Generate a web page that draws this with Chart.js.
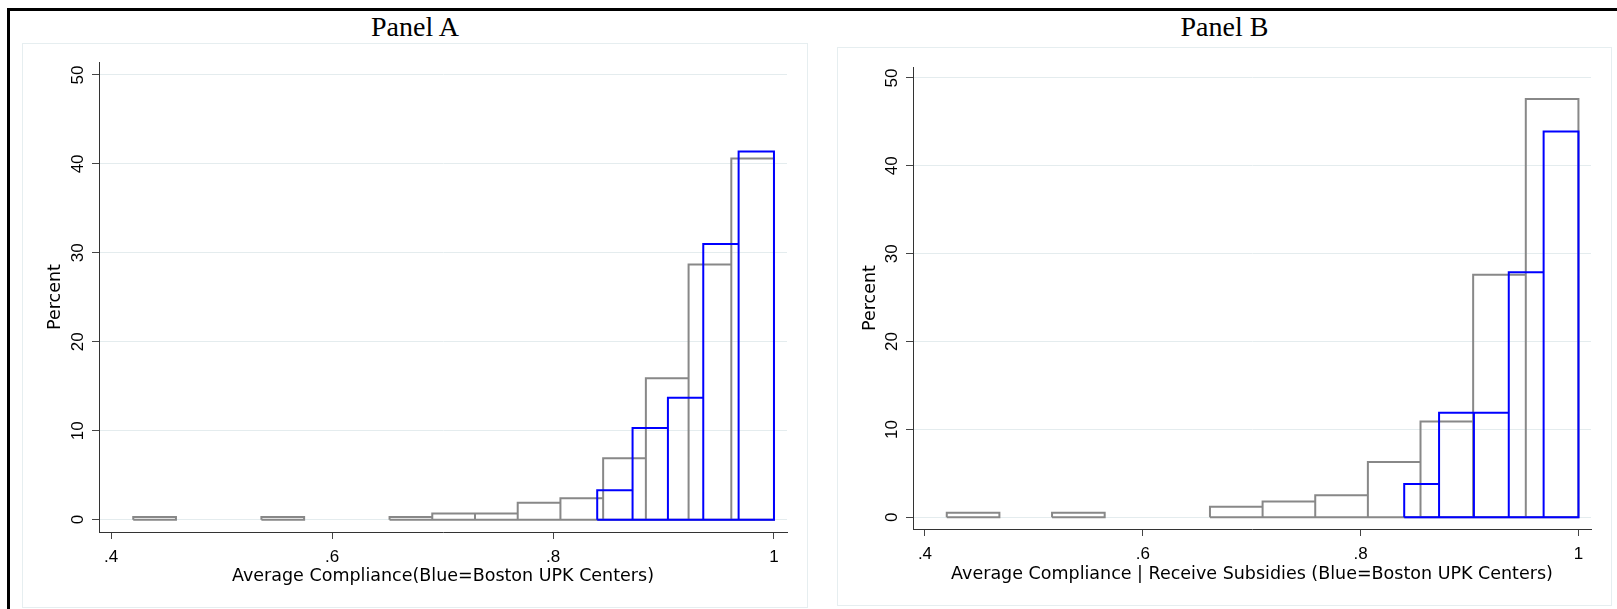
<!DOCTYPE html>
<html>
<head>
<meta charset="utf-8">
<script src="https://cdn.jsdelivr.net/npm/chart.js@4.4.1/dist/chart.umd.min.js"></script>
<style>
  html, body { margin: 0; padding: 0; background: #fff; overflow: hidden; }
  body { width: 1617px; height: 609px; position: relative; }
  #frame { position: absolute; left: 7px; top: 8px; width: 2000px; height: 1000px; border: 3px solid #000; }
  .region { position: absolute; box-sizing: border-box; border: 1px solid #e6eef0; background: #fff; }
  .title { position: absolute; text-align: center; font-family: "Liberation Serif", "Times New Roman", serif; font-size: 28px; line-height: 28px; color: #000; }
  canvas { position: absolute; }
</style>
</head>
<body>
<div id="frame"></div>
<div class="title" style="left:22px; top:13px; width:786px;">Panel A</div>
<div class="title" style="left:837px; top:13px; width:775px;">Panel B</div>
<div class="region" style="left:22px; top:43px; width:786px; height:565px;"></div>
<div class="region" style="left:837px; top:47px; width:775px; height:559px;"></div>
<canvas id="chartA" width="786" height="565" style="left:22px; top:43px;"></canvas>
<canvas id="chartB" width="775" height="559" style="left:837px; top:47px;"></canvas>
<script>
// histogram bins: first lower edge, bin width, percent per bin
const aGrayStart = 0.42, aGrayWidth = 0.03867;
const aGrayPct = [0.3, 0, 0, 0.3, 0, 0, 0.3, 0.7, 0.7, 1.9, 2.4, 6.9, 15.9, 28.7, 40.6];
const aBlueStart = 0.84, aBlueWidth = 0.032;
const aBluePct = [3.3, 10.3, 13.7, 31.0, 41.4];

const bGrayStart = 0.42, bGrayWidth = 0.04833;
const bGrayPct = [0.53, 0, 0.53, 0, 0, 1.2, 1.8, 2.5, 6.3, 10.9, 27.6, 47.6];
const bBlueStart = 0.84, bBlueWidth = 0.032;
const bBluePct = [3.8, 11.9, 11.9, 27.9, 43.9];

const xTickVals = [0.4, 0.6, 0.8, 1];
const xTickLabels = ['.4', '.6', '.8', '1'];
const yTickVals = [0, 10, 20, 30, 40, 50];

const xTitleA = 'Average Compliance(Blue=Boston UPK Centers)';
const xTitleB = 'Average Compliance | Receive Subsidies (Blue=Boston UPK Centers)';
const yTitle = 'Percent';

// one closed rectangle per non-empty bin, separated by gaps
function outline(start, width, pct) {
  const pts = [];
  pct.forEach((h, i) => {
    if (!h) return;
    const x0 = start + i * width, x1 = x0 + width;
    pts.push({x: x0, y: 0}, {x: x0, y: h}, {x: x1, y: h}, {x: x1, y: 0}, {x: x0, y: 0}, {x: x1, y: null});
  });
  return pts;
}

const tickFont = { family: 'Liberation Sans', size: 17 };
const titleFont = { family: 'DejaVu Sans', size: 17.5 };

function makePanel(id, gray, blue, xTitle, lay) {
  const ctx = document.getElementById(id).getContext('2d');
  return new Chart(ctx, {
    type: 'scatter',
    data: { datasets: [
      { data: blue, borderColor: '#0000ff', borderWidth: 2, showLine: true, pointRadius: 0, order: 0,
        borderJoinStyle: 'miter', spanGaps: false },
      { data: gray, borderColor: '#888888', borderWidth: 2, showLine: true, pointRadius: 0, order: 1,
        borderJoinStyle: 'miter', spanGaps: false },
    ]},
    options: {
      responsive: false,
      animation: false,
      devicePixelRatio: 1,
      layout: { padding: { top: lay.top, right: lay.right, left: 0, bottom: 0 } },
      plugins: { legend: { display: false }, tooltip: { enabled: false } },
      scales: {
        x: {
          type: 'linear', min: lay.xmin, max: lay.xmax,
          afterBuildTicks: s => { s.ticks = xTickVals.map(v => ({ value: v })); },
          afterFit: s => { s.height = lay.xh; },
          ticks: { font: tickFont, color: '#000', padding: 8, maxRotation: 0,
                   callback: (v) => xTickLabels[xTickVals.indexOf(v)] },
          grid: { drawOnChartArea: false, tickColor: '#444', tickLength: 7 },
          border: { color: '#333', width: 1 },
          title: { display: true, text: xTitle, font: titleFont, color: '#000', padding: { top: 0, bottom: 21 } }
        },
        y: {
          type: 'linear', min: lay.ymin, max: lay.ymax,
          afterBuildTicks: s => { s.ticks = yTickVals.map(v => ({ value: v })); },
          afterFit: s => { s.width = lay.yw; },
          ticks: { font: tickFont, color: '#000', padding: 4.5, minRotation: 90, maxRotation: 90, crossAlign: 'center' },
          grid: { color: '#e4ecee', lineWidth: 1, tickColor: '#444', tickLength: 7 },
          border: { color: '#333', width: 1 },
          title: { display: true, text: yTitle, font: titleFont, color: '#000', padding: { top: 23, bottom: 0 } }
        }
      }
    }
  });
}

makePanel('chartA', outline(aGrayStart, aGrayWidth, aGrayPct), outline(aBlueStart, aBlueWidth, aBluePct), xTitleA,
  { top: 19, right: 21, yw: 77, xh: 76, xmin: 0.389, xmax: 1.0118, ymin: -1.39, ymax: 51.46 });
makePanel('chartB', outline(bGrayStart, bGrayWidth, bGrayPct), outline(bBlueStart, bBlueWidth, bBluePct), xTitleB,
  { top: 20, right: 21, yw: 76, xh: 77, xmin: 0.389, xmax: 1.0115, ymin: -1.33, ymax: 51.25 });
</script>
</body>
</html>
